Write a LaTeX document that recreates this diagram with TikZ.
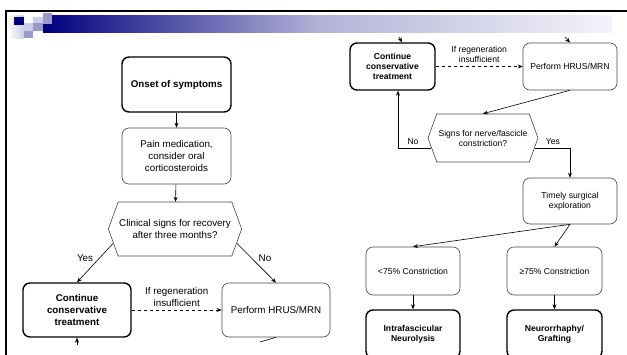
\documentclass[tikz,border=0pt]{standalone}
\usepackage{fontspec}
\setmainfont{Liberation Sans}
\usetikzlibrary{arrows.meta,shapes.symbols,calc}
\definecolor{slnavy}{RGB}{0,0,128}
\definecolor{slmid}{RGB}{153,153,204}
\definecolor{sllight}{RGB}{204,204,230}
\definecolor{slpale}{RGB}{178,178,216}
\definecolor{slfade}{RGB}{244,244,250}
\definecolor{boxgray}{RGB}{70,70,70}
\newcommand\flowbig{\fontsize{9.8}{11.6}\selectfont}
\newcommand\flowsmall{\fontsize{8.6}{10}\selectfont}

\begin{document}
\begin{tikzpicture}[x=1pt, y=-1pt,
  box/.style={draw=boxgray, line width=0.6pt, rounded corners=7pt, align=center, inner sep=1pt},
  keybox/.style={box, draw=black, line width=1.4pt, execute at begin node=\bfseries},
  query/.style={draw=boxgray, line width=0.6pt, signal, signal to=east and west, signal pointer angle=140, align=center, inner sep=1pt},
  arr/.style={-{Stealth[length=5pt,width=4pt]}, line width=0.6pt}]
\useasboundingbox (0,0) rectangle (627,354);
\clip (0,0) rectangle (627,354);

\shade[left color=white, right color=sllight] (8,15) rectangle (24,38);
\shade[left color=slnavy, right color=slpale] (43,15) rectangle (320,32);
\shade[left color=slpale, right color=slfade] (320,15) rectangle (612,32);
\fill[slnavy] (14,17) rectangle (24,25);
\fill[sllight] (24,23) rectangle (33,31);
\fill[slmid] (24,31) rectangle (33,38);
\fill[sllight] (33,17) rectangle (43,23);
\fill[slmid] (33,23) rectangle (43,31);
\fill[slmid] (43,13) rectangle (52,24);
\draw[line width=2.2pt] (6,358) -- (6,11) -- (630,11);

\node[keybox, font=\flowbig, minimum width=109pt, minimum height=55pt] (onset) at (176.5,84.5) {Onset of symptoms};
\node[box, font=\flowbig, minimum width=109pt, minimum height=56pt] (pain) at (176.5,156) {Pain medication,\\consider oral\\corticosteroids};
\node[query, font=\flowbig, minimum width=124pt, minimum height=54pt] (recov) at (175,229) {Clinical signs for recovery\\after three months?};
\node[keybox, font=\flowbig, minimum width=108pt, minimum height=54pt] (cons1) at (77,310) {Continue\\conservative\\treatment};
\node[box, font=\flowbig, minimum width=108pt, minimum height=54pt] (hrus1) at (276,310) {Perform HRUS/MRN};
\node[font=\flowbig] (yes1) at (85,258) {Yes};
\node[font=\flowbig] (no1) at (265,258) {No};

\draw[arr] (onset) -- (pain);
\draw[arr] (pain) -- (recov);
\draw[arr] (recov.193) -- (cons1.north);
\draw[arr] (recov.347) -- (hrus1.north);
\draw[arr, dashed] (cons1) -- node[above, align=center, font=\flowbig] (regen1) {If regeneration\\insufficient} (hrus1);
\coordinate (cons1in) at (77,345);
\draw[arr] (cons1in) -- (cons1.south);
\coordinate (hrus1out) at (260,342);
\draw[line width=0.6pt] (hrus1.south) -- (hrus1out);

\node[keybox, font=\flowsmall, minimum width=85pt, minimum height=47pt] (cons2) at (392.5,66.5) {Continue\\conservative\\treatment};
\node[box, font=\flowsmall, minimum width=94pt, minimum height=47pt] (hrus2) at (570,66.5) {Perform HRUS/MRN};
\node[query, font=\flowsmall, minimum width=110pt, minimum height=48pt] (constr) at (483,138) {Signs for nerve/fascicle\\constriction?};
\node[box, font=\flowsmall, minimum width=94pt, minimum height=46pt] (explore) at (570,201) {Timely surgical\\exploration};
\node[box, font=\flowsmall, minimum width=94pt, minimum height=48pt] (minor) at (413,271) {<75\% Constriction};
\node[box, font=\flowsmall, minimum width=95pt, minimum height=48pt] (major) at (554.5,271) {≥75\% Constriction};
\node[keybox, font=\flowsmall, minimum width=94pt, minimum height=48pt] (neurolysis) at (413,334) {Intrafascicular\\Neurolysis};
\node[keybox, font=\flowsmall, minimum width=95pt, minimum height=48pt] (grafting) at (554.5,334) {Neurorrhaphy/\\Grafting};
\node[font=\flowsmall] (no2) at (413,142) {No};
\node[font=\flowsmall] (yes2) at (553,142) {Yes};

\coordinate (cons2in) at (399,37);
\draw[arr] (cons2in) -- ($(cons2.north)+(9.5,0)$);
\coordinate (hrus2in) at (565,37);
\draw[arr] (hrus2in) -- (hrus2.north);
\draw[arr, dashed] (cons2) -- node[above, align=center, font=\flowsmall] (regen2) {If regeneration\\insufficient} (hrus2);
\draw[arr] (hrus2.south) -- (constr.north);
\draw[arr] (constr.191) -| ($(cons2.south)+(5.5,0)$);
\draw[arr] (constr.349) -| (explore.north);
\draw[arr] (explore.south) -- (minor.north);
\draw[arr] (explore.south) -- (major.north);
\draw[arr] (minor) -- (neurolysis);
\draw[arr] (major) -- (grafting);
\end{tikzpicture}
\end{document}
